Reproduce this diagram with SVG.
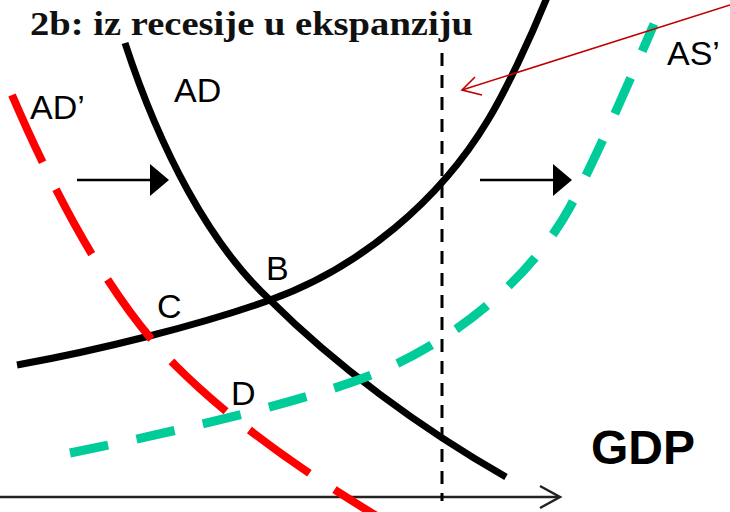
<svg xmlns="http://www.w3.org/2000/svg" width="730" height="512" viewBox="0 0 730 512">
<style>
.lbl{font-family:"Liberation Sans",Arial,sans-serif;font-size:34px;fill:#000}
.title{font-family:"Liberation Serif","Times New Roman",serif;font-size:33px;font-weight:bold;fill:#111}
.gdp{font-family:"Liberation Sans",Arial,sans-serif;font-size:48px;font-weight:bold;fill:#000}
.curve{fill:none;stroke-linecap:butt}
.shift{stroke:#000;stroke-width:2.5;fill:none}
</style>
<defs>
<marker id="tri" markerUnits="userSpaceOnUse" markerWidth="20" markerHeight="32" refX="0" refY="16" orient="auto">
<path d="M0,0 L19,16 L0,32 Z" fill="#000"/>
</marker>
</defs>
<rect width="730" height="512" fill="#fff"/>
<text class="title" x="30" y="35" textLength="443" lengthAdjust="spacingAndGlyphs">2b: iz recesije u ekspanziju</text>

<g id="axis">
<line x1="0" y1="497" x2="559" y2="497" stroke="#222" stroke-width="2.5"/>
<polyline points="540,486 560,497 540,508" fill="none" stroke="#222" stroke-width="2.5"/>
</g>
<g id="potential">
<line x1="442" y1="53" x2="442" y2="501" stroke="#000" stroke-width="3" stroke-dasharray="13 9"/>
</g>
<g id="AS">
<path class="curve" d="M17,365 C100,350 200,325 270,300 C360,268 440,200 488,120 C505,92 530,40 550,-10" stroke="#000" stroke-width="7"/>
</g>
<g id="AD">
<path class="curve" d="M125,43 C160,150 210,245 270,300 C335,365 420,428 506,477" stroke="#000" stroke-width="7"/>
</g>
<g id="ADprime">
<path class="curve" d="M12,95 C55,195 110,300 175,365 C230,420 300,470 380,518" stroke="#f00" stroke-width="8" stroke-dasharray="74 30"/>
</g>
<g id="ASprime">
<path class="curve" d="M70,453 C150,437 280,408 358,380 C450,347 530,280 570,207 C600,150 632,75 654,24" stroke="#00cc99" stroke-width="9" stroke-dasharray="39 29"/>
</g>
<g id="connectors">
<line class="shift" x1="77" y1="180" x2="150" y2="180" marker-end="url(#tri)"/>
<line class="shift" x1="480" y1="180" x2="553" y2="180" marker-end="url(#tri)"/>
<line x1="730" y1="5" x2="462" y2="90" stroke="#c00000" stroke-width="1.6"/>
<polyline points="475,77 462,90 482,95" fill="none" stroke="#c00000" stroke-width="1.6"/>
</g>
<g id="labels">
<text class="lbl" x="174" y="102">AD</text>
<text class="lbl" x="30" y="119">AD’</text>
<text class="lbl" x="667" y="65">AS’</text>
<text class="lbl" x="266" y="280">B</text>
<text class="lbl" x="157" y="318">C</text>
<text class="lbl" x="231" y="405">D</text>
<text class="gdp" x="591" y="464">GDP</text>
</g>
</svg>
